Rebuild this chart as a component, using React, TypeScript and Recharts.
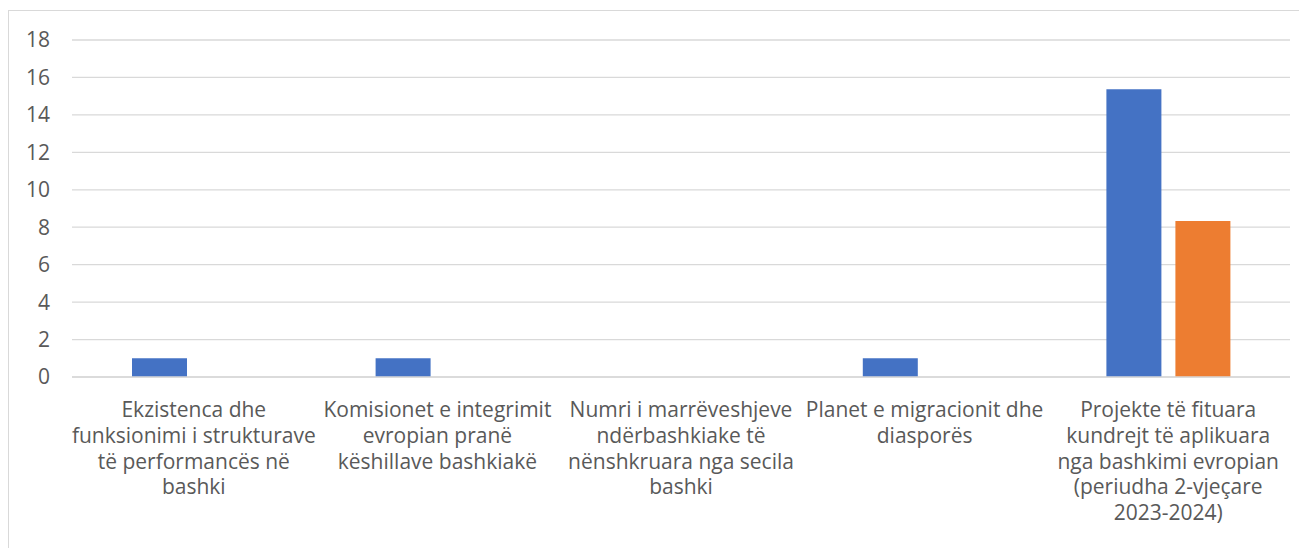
import React from 'react';
import { BarChart, Bar, XAxis, YAxis, CartesianGrid } from 'recharts';

// Kategoritë (me ndarjet e rreshtave si në grafikun origjinal)
const categories = [
  'Ekzistenca dhe\nfunksionimi i strukturave\ntë performancës në\nbashki',
  'Komisionet e integrimit\nevropian pranë\nkëshillave bashkiakë',
  'Numri i marrëveshjeve\nndërbashkiake të\nnënshkruara nga secila\nbashki',
  'Planet e migracionit dhe\ndiasporës',
  'Projekte të fituara\nkundrejt të aplikuara\nnga bashkimi evropian\n(periudha 2-vjeçare\n2023-2024)',
];

const seriesA = [1, 1, 0, 1, 15.37];
const seriesB = [0, 0, 0, 0, 8.33];

const yTicks = [0, 2, 4, 6, 8, 10, 12, 14, 16, 18];

const data = categories.map((name, i) => ({ name, a: seriesA[i], b: seriesB[i] }));

const FONT = '"Open Sans", sans-serif';
const TEXT_COLOR = '#595959';
const GRID_COLOR = '#d9d9d9';

const CategoryTick = ({ x, y, payload }: any) => {
  const lines = String(payload.value).split('\n');
  return (
    <g transform={`translate(${x},${y})`}>
      <text
        textAnchor="middle"
        fill={TEXT_COLOR}
        fontFamily={FONT}
        fontSize={21}
      >
        {lines.map((line, i) => (
          <tspan key={i} x={0} y={32 + i * 25.8}>
            {line}
          </tspan>
        ))}
      </text>
    </g>
  );
};

export default function App() {
  return (
    <div
      style={{
        marginTop: 2,
        borderTop: `1px solid ${GRID_COLOR}`,
        borderLeft: `1px solid ${GRID_COLOR}`,
        width: 1298,
        height: 537,
      }}
    >
      <BarChart
        width={1298}
        height={537}
        data={data}
        margin={{ top: 29, right: 17, bottom: 0, left: 0 }}
        barCategoryGap={60}
        barGap={14}
      >
        <CartesianGrid vertical={false} stroke={GRID_COLOR} strokeWidth={1.3} />
        <XAxis
          dataKey="name"
          interval={0}
          height={171}
          axisLine={{ stroke: GRID_COLOR, strokeWidth: 1.3 }}
          tickLine={false}
          tick={<CategoryTick />}
        />
        <YAxis
          domain={[0, 18]}
          ticks={yTicks}
          width={63}
          axisLine={false}
          tickLine={false}
          tickSize={0}
          tickMargin={22}
          tick={{ fill: TEXT_COLOR, fontFamily: FONT, fontSize: 21 }}
        />
        <Bar dataKey="a" fill="#4472C4" isAnimationActive={false} />
        <Bar dataKey="b" fill="#ED7D31" isAnimationActive={false} />
      </BarChart>
    </div>
  );
}
